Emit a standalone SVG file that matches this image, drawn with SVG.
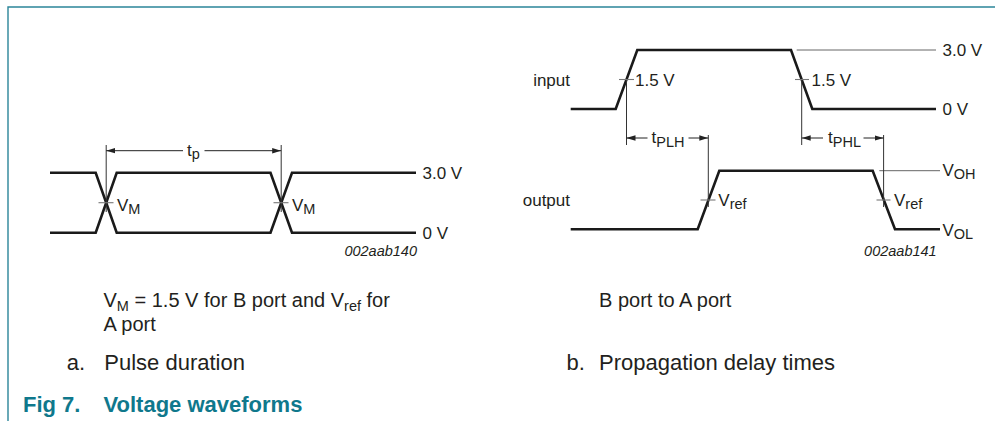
<svg xmlns="http://www.w3.org/2000/svg" width="995" height="421" viewBox="0 0 995 421">
<style>
  .wave{fill:none;stroke:#1a1a1a;stroke-width:2.6;stroke-linejoin:miter}
  .thin{fill:none;stroke:#333;stroke-width:1}
  .ref{fill:none;stroke:#666;stroke-width:1}
  .tick{fill:none;stroke:#777;stroke-width:1.1}
  .dim{fill:none;stroke:#222;stroke-width:1}
  .lbl{font-family:"Liberation Sans",Arial,sans-serif;font-size:17px;fill:#231f20}
  .sub{font-size:14.5px}
  .code{font-family:"Liberation Sans",Arial,sans-serif;font-size:14.5px;font-style:italic;fill:#231f20}
  .note{font-family:"Liberation Sans",Arial,sans-serif;font-size:20px;fill:#231f20}
  .cap{font-family:"Liberation Sans",Arial,sans-serif;font-size:22px;fill:#231f20}
  .fig{font-family:"Liberation Sans",Arial,sans-serif;font-size:22px;font-weight:bold;fill:#0f788c}
</style>
<defs>
  <marker id="arr" viewBox="0 0 10 6" refX="10" refY="3" markerUnits="userSpaceOnUse" markerWidth="9" markerHeight="6" orient="auto-start-reverse">
    <path d="M0,0 L10,3 L0,6 z" fill="#222"/>
  </marker>
</defs>

<g id="border">
  <path d="M8,421 V7 H995" fill="none" stroke="#2b8599" stroke-width="1.4"/>
</g>

<g id="panel-a">
  <g id="wave-a">
    <path class="wave" d="M50,172.7 H95.7 L116.7,232.7 H270.5 L292,172.7 H416"/>
    <path class="wave" d="M50,232.7 H95.7 L116.7,172.7 H270.5 L292,232.7 H416"/>
  </g>
  <g id="connectors-a">
    <line class="thin" x1="106.2" y1="145" x2="106.2" y2="212"/>
    <line class="thin" x1="281.2" y1="145" x2="281.2" y2="212"/>
    <line class="tick" x1="98.5" y1="202.7" x2="113.5" y2="202.7"/>
    <line class="tick" x1="273.5" y1="202.7" x2="288.5" y2="202.7"/>
    <line class="dim" x1="106.2" y1="150.7" x2="183" y2="150.7" marker-start="url(#arr)"/>
    <line class="dim" x1="204.5" y1="150.7" x2="281.2" y2="150.7" marker-end="url(#arr)"/>
  </g>
  <text class="lbl" x="187" y="155.5">t<tspan class="sub" dy="3.5">p</tspan></text>
  <text class="lbl" x="117" y="210.5">V<tspan class="sub" dy="3">M</tspan></text>
  <text class="lbl" x="292" y="210.5">V<tspan class="sub" dy="3">M</tspan></text>
  <text class="lbl" x="422.5" y="178.7">3.0 V</text>
  <text class="lbl" x="422.5" y="238.7">0 V</text>
  <text class="code" x="417" y="256" text-anchor="end">002aab140</text>
</g>

<g id="panel-b">
  <g id="wave-input">
    <path class="wave" d="M570.7,109 H615.7 L637.3,50 H791 L812.3,109 H936"/>
  </g>
  <g id="wave-output">
    <path class="wave" d="M570.7,229.3 H697.7 L719.3,170.7 H872.7 L895,229.3 H940"/>
  </g>
  <g id="connectors-b">
    <line class="ref" x1="796.7" y1="50" x2="936" y2="50"/>
    <line class="ref" x1="879.3" y1="170.7" x2="940" y2="170.7"/>
    <line class="thin" x1="626.5" y1="79" x2="626.5" y2="145"/>
    <line class="thin" x1="801.7" y1="79" x2="801.7" y2="145"/>
    <line class="thin" x1="708.3" y1="135" x2="708.3" y2="207"/>
    <line class="thin" x1="883.6" y1="135" x2="883.6" y2="207"/>
    <line class="tick" x1="619" y1="79.5" x2="634" y2="79.5"/>
    <line class="tick" x1="795" y1="79.5" x2="809" y2="79.5"/>
    <line class="tick" x1="700.5" y1="200" x2="715.5" y2="200"/>
    <line class="tick" x1="876.5" y1="200" x2="890.5" y2="200"/>
    <line class="dim" x1="626.5" y1="138" x2="647.5" y2="138" marker-start="url(#arr)"/>
    <line class="dim" x1="688.5" y1="138" x2="708.3" y2="138" marker-end="url(#arr)"/>
    <line class="dim" x1="801.7" y1="138" x2="823" y2="138" marker-start="url(#arr)"/>
    <line class="dim" x1="863.5" y1="138" x2="883.6" y2="138" marker-end="url(#arr)"/>
  </g>
  <text class="lbl" x="570" y="85.5" text-anchor="end">input</text>
  <text class="lbl" x="570" y="206" text-anchor="end">output</text>
  <text class="lbl" x="635" y="85.5">1.5 V</text>
  <text class="lbl" x="811.5" y="85.5">1.5 V</text>
  <text class="lbl" x="942.5" y="56">3.0 V</text>
  <text class="lbl" x="942.5" y="115">0 V</text>
  <text class="lbl" x="651.5" y="143">t<tspan class="sub" dy="3.5">PLH</tspan></text>
  <text class="lbl" x="828" y="143">t<tspan class="sub" dy="3.5">PHL</tspan></text>
  <text class="lbl" x="718.3" y="206">V<tspan class="sub" dy="3">ref</tspan></text>
  <text class="lbl" x="894" y="206">V<tspan class="sub" dy="3">ref</tspan></text>
  <text class="lbl" x="942.5" y="176">V<tspan class="sub" dy="3">OH</tspan></text>
  <text class="lbl" x="942.5" y="236">V<tspan class="sub" dy="3">OL</tspan></text>
  <text class="code" x="936.7" y="256" text-anchor="end">002aab141</text>
</g>

<g id="captions">
  <text class="note" x="103.5" y="307">V<tspan font-size="14.5" dy="4">M</tspan><tspan dy="-4"> = 1.5 V for B port and V</tspan><tspan font-size="14.5" dy="4">ref</tspan><tspan dy="-4"> for</tspan></text>
  <text class="note" x="103.5" y="331">A port</text>
  <text class="note" x="599" y="307">B port to A port</text>
  <text class="cap" x="66.7" y="370">a.</text>
  <text class="cap" x="104.3" y="370">Pulse duration</text>
  <text class="cap" x="566.5" y="370">b.</text>
  <text class="cap" x="599" y="370">Propagation delay times</text>
  <text class="fig" x="23" y="411.5">Fig 7.</text>
  <text class="fig" x="103.5" y="411.5">Voltage waveforms</text>
</g>
</svg>
